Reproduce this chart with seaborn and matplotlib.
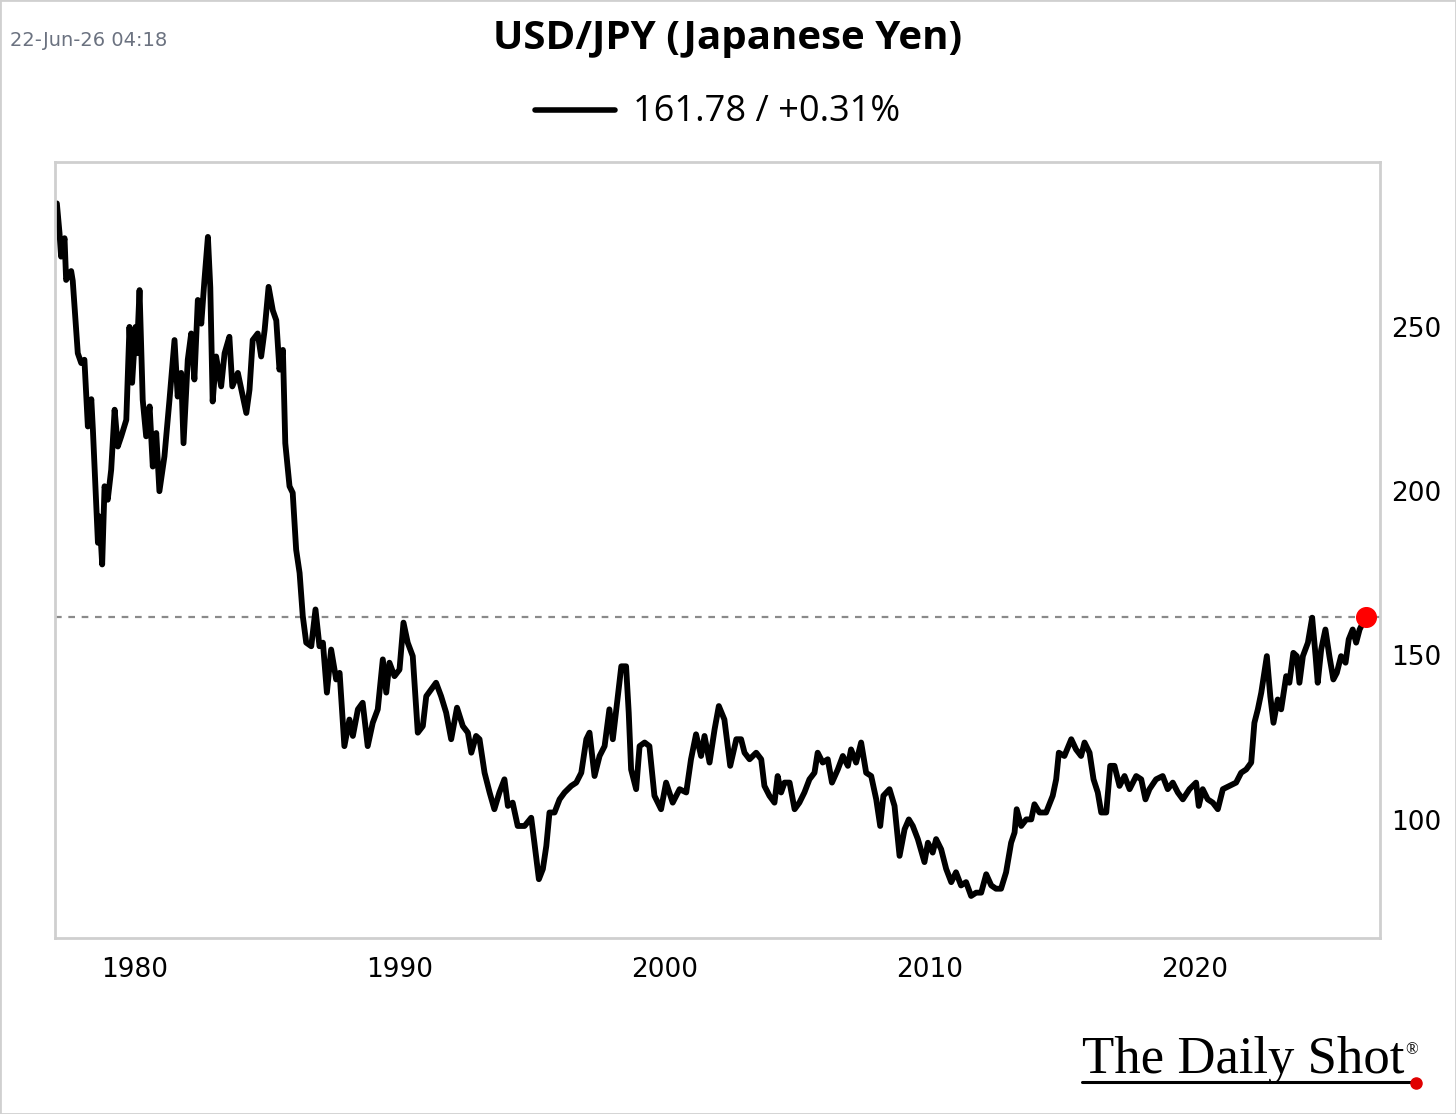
import matplotlib
matplotlib.use("Agg")
import matplotlib.pyplot as plt
from matplotlib.lines import Line2D
from matplotlib.patches import Rectangle
import numpy as np
import pandas as pd
import seaborn as sns

# USD/JPY, values (decimal year, yen per dollar)
years = [
    1977.07, 1977.17, 1977.23, 1977.36, 1977.42, 1977.61, 1977.67, 1977.86, 1977.99, 1978.11,
    1978.24, 1978.37, 1978.43, 1978.62, 1978.68, 1978.78, 1978.87, 1978.99, 1979.12, 1979.25,
    1979.37, 1979.50, 1979.69, 1979.81, 1979.91, 1980.04, 1980.09, 1980.19, 1980.31, 1980.44,
    1980.57, 1980.69, 1980.82, 1980.94, 1981.13, 1981.32, 1981.51, 1981.63, 1981.76, 1981.85,
    1982.01, 1982.14, 1982.26, 1982.39, 1982.52, 1982.64, 1982.77, 1982.86, 1982.95, 1983.08,
    1983.27, 1983.40, 1983.58, 1983.69, 1983.90, 1984.22, 1984.34, 1984.46, 1984.65, 1984.78,
    1984.91, 1985.06, 1985.22, 1985.35, 1985.47, 1985.60, 1985.69, 1985.85, 1985.97, 1986.10,
    1986.23, 1986.35, 1986.48, 1986.67, 1986.83, 1986.98, 1987.11, 1987.26, 1987.42, 1987.61,
    1987.74, 1987.92, 1988.11, 1988.24, 1988.43, 1988.61, 1988.80, 1988.99, 1989.18, 1989.37,
    1989.50, 1989.62, 1989.81, 1990.00, 1990.15, 1990.31, 1990.50, 1990.69, 1990.88, 1991.01,
    1991.20, 1991.38, 1991.57, 1991.76, 1991.95, 1992.17, 1992.39, 1992.58, 1992.71, 1992.89,
    1993.02, 1993.21, 1993.40, 1993.58, 1993.77, 1993.96, 1994.09, 1994.27, 1994.46, 1994.72,
    1994.97, 1995.09, 1995.26, 1995.41, 1995.54, 1995.66, 1995.85, 1996.04, 1996.23, 1996.48,
    1996.67, 1996.86, 1997.05, 1997.17, 1997.36, 1997.55, 1997.74, 1997.92, 1998.05, 1998.18,
    1998.37, 1998.55, 1998.65, 1998.74, 1998.93, 1999.06, 1999.25, 1999.43, 1999.62, 1999.87,
    2000.06, 2000.31, 2000.57, 2000.82, 2001.00, 2001.19, 2001.38, 2001.51, 2001.70, 2001.89,
    2002.05, 2002.26, 2002.48, 2002.71, 2002.89, 2003.02, 2003.21, 2003.46, 2003.65, 2003.77,
    2003.96, 2004.15, 2004.27, 2004.40, 2004.53, 2004.72, 2004.91, 2005.09, 2005.28, 2005.47,
    2005.66, 2005.78, 2005.97, 2006.16, 2006.32, 2006.54, 2006.73, 2006.92, 2007.04, 2007.23,
    2007.42, 2007.61, 2007.80, 2007.99, 2008.14, 2008.26, 2008.49, 2008.68, 2008.87, 2009.06,
    2009.22, 2009.37, 2009.56, 2009.81, 2009.94, 2010.12, 2010.25, 2010.44, 2010.63, 2010.82,
    2011.00, 2011.19, 2011.38, 2011.57, 2011.76, 2011.95, 2012.14, 2012.33, 2012.51, 2012.70,
    2012.89, 2013.08, 2013.21, 2013.29, 2013.46, 2013.65, 2013.84, 2013.96, 2014.15, 2014.40,
    2014.65, 2014.78, 2014.88, 2015.09, 2015.35, 2015.53, 2015.72, 2015.85, 2016.04, 2016.19,
    2016.35, 2016.48, 2016.67, 2016.82, 2016.98, 2017.17, 2017.36, 2017.55, 2017.80, 2017.99,
    2018.15, 2018.30, 2018.55, 2018.80, 2018.99, 2019.18, 2019.37, 2019.56, 2019.81, 2020.06,
    2020.16, 2020.31, 2020.50, 2020.69, 2020.88, 2021.07, 2021.32, 2021.57, 2021.76, 2021.95,
    2022.14, 2022.26, 2022.39, 2022.52, 2022.73, 2022.86, 2022.98, 2023.14, 2023.27, 2023.46,
    2023.58, 2023.73, 2023.86, 2023.96, 2024.09, 2024.28, 2024.44, 2024.57, 2024.65, 2024.78,
    2024.94, 2025.09, 2025.24, 2025.37, 2025.53, 2025.70, 2025.82, 2025.97, 2026.10, 2026.23,
    2026.47,
]
usdjpy = [
    287.6, 278.6, 271.4, 277.0, 264.3, 267.0, 264.0, 242.0, 239.0, 240.0,
    219.7, 228.0, 218.7, 184.3, 192.3, 177.7, 201.5, 197.4, 206.5, 224.8,
    213.6, 216.7, 221.7, 250.0, 233.0, 250.0, 242.0, 261.2, 227.8, 216.7,
    225.8, 207.5, 217.7, 200.0, 210.6, 227.8, 246.0, 228.8, 236.0, 214.6,
    240.0, 248.0, 234.0, 258.2, 251.0, 264.3, 277.4, 262.0, 227.3, 241.0,
    231.9, 242.0, 247.0, 231.9, 236.0, 223.8, 230.9, 246.0, 248.0, 241.0,
    249.0, 262.2, 255.0, 252.0, 237.0, 243.0, 214.6, 201.5, 199.5, 182.2,
    175.1, 162.0, 153.9, 152.8, 164.0, 152.8, 153.9, 138.7, 151.8, 142.7,
    144.7, 122.4, 130.5, 125.5, 133.6, 135.6, 122.4, 129.5, 133.6, 148.8,
    138.7, 147.8, 143.7, 145.7, 160.0, 153.9, 149.8, 126.5, 128.5, 137.6,
    139.7, 141.7, 137.6, 132.6, 124.5, 134.1, 128.5, 126.5, 120.4, 125.5,
    124.5, 114.3, 108.3, 103.2, 108.3, 112.3, 104.2, 105.2, 98.1, 98.1,
    100.6, 93.0, 81.9, 85.0, 92.0, 102.2, 102.2, 106.2, 108.3, 110.3,
    111.3, 114.3, 124.5, 126.5, 113.3, 119.4, 122.4, 133.6, 124.5, 133.6,
    146.7, 146.7, 132.6, 115.3, 109.3, 122.4, 123.5, 122.4, 107.3, 103.2,
    111.3, 105.2, 109.3, 108.3, 118.4, 126.0, 119.4, 125.5, 117.4, 127.5,
    134.6, 130.5, 116.4, 124.5, 124.5, 120.4, 118.4, 120.4, 118.4, 110.3,
    107.3, 105.2, 113.3, 108.3, 111.3, 111.3, 103.2, 105.2, 108.3, 112.3,
    114.3, 120.4, 117.4, 118.4, 111.3, 115.3, 119.4, 116.4, 121.4, 117.4,
    123.5, 114.3, 113.3, 106.2, 98.1, 107.3, 109.3, 104.2, 89.0, 97.1,
    100.1, 98.1, 94.1, 87.1, 93.0, 90.0, 94.1, 91.0, 85.0, 81.0,
    84.0, 80.0, 81.0, 76.8, 77.8, 77.8, 83.4, 80.0, 79.0, 79.0,
    84.0, 93.0, 96.1, 103.2, 98.1, 100.1, 100.1, 104.7, 102.2, 102.2,
    107.3, 112.3, 120.4, 119.4, 124.5, 121.4, 119.4, 123.5, 120.4, 112.3,
    108.3, 102.2, 102.2, 116.4, 116.4, 110.3, 113.3, 109.3, 113.3, 112.3,
    106.2, 109.3, 112.3, 113.3, 109.3, 111.3, 108.3, 106.2, 109.3, 111.3,
    104.2, 109.3, 106.2, 105.2, 103.2, 109.3, 110.3, 111.3, 114.3, 115.3,
    117.4, 129.5, 133.6, 138.7, 149.8, 137.6, 129.5, 136.6, 133.6, 143.7,
    141.7, 150.8, 149.8, 141.7, 149.8, 153.9, 161.5, 149.8, 141.7, 151.8,
    157.9, 149.8, 142.7, 144.7, 149.8, 147.8, 154.9, 157.9, 153.9, 157.9,
    161.78,
]
last_value = 161.78
legend_text = "161.78 / +0.31%"
title = "USD/JPY (Japanese Yen)"
stamp = "22-Jun-26 04:18"
x_ticks = [1980, 1990, 2000, 2010, 2020]
y_ticks = [100, 150, 200, 250]

df = pd.DataFrame({"year": years, "value": usdjpy})

sns.set_style("white")
plt.rcParams["font.family"] = ["DejaVu Sans"]
plt.rcParams["text.color"] = "black"

W, H = 1456, 1114
fig = plt.figure(figsize=(W / 100, H / 100), dpi=100)
ax = fig.add_axes([55 / W, 1 - 938 / H, (1380 - 55) / W, (938 - 162) / H])

sns.lineplot(data=df, x="year", y="value", ax=ax, color="black", linewidth=4.2)
ax.axhline(last_value, color="#8a8a8a", linestyle=(0, (3, 3)), linewidth=1.6, zorder=1)
ax.scatter([years[-1]], [last_value], s=200, color="#ff0000", zorder=5, clip_on=False)

ax.set_xlim(1977.0, 2027.0)
ax.set_ylim(64, 300.2)
ax.set_xticks(x_ticks)
ax.set_yticks(y_ticks)
ax.yaxis.tick_right()
ax.tick_params(axis="both", length=0, labelsize=19, colors="black")
ax.tick_params(axis="x", pad=14)
ax.tick_params(axis="y", pad=8)
ax.set_xlabel("")
ax.set_ylabel("")
for sp in ax.spines.values():
    sp.set_color("#cfcfcf")
    sp.set_linewidth(2)

# header
fig.text(10 / W, 1 - 40 / H, stamp, fontsize=14, color="#6b7280", va="center", ha="left")
fig.text(0.5, 1 - 38 / H, title, fontsize=29, fontweight="bold", va="center", ha="center",
         color="black", family=["Liberation Sans Narrow", "Open Sans", "DejaVu Sans"])
fig.add_artist(Line2D([535 / W, 615 / W], [1 - 110 / H, 1 - 110 / H], color="black",
                      linewidth=4, transform=fig.transFigure))
fig.text(633 / W, 1 - 112 / H, legend_text, fontsize=26, va="center", ha="left",
         color="black", family=["Open Sans", "DejaVu Sans"])

# logo
fig.text(1082 / W, 1 - 1073 / H, "The Daily Shot", fontsize=38, va="baseline", ha="left",
         color="black", family=["Liberation Serif", "DejaVu Serif"])
fig.text(1405 / W, 1 - 1050 / H, "®", fontsize=12, va="center", ha="left",
         color="black", family=["Liberation Serif", "DejaVu Serif"])
fig.add_artist(Line2D([1082 / W, 1412 / W], [1 - 1082 / H, 1 - 1082 / H], color="black",
                      linewidth=2.2, transform=fig.transFigure))
fig.add_artist(Line2D([1416 / W], [1 - 1083 / H], marker="o", markersize=8, color="#e00000",
                      transform=fig.transFigure))

# light frame around the whole picture
fig.add_artist(Rectangle((0, 0), 1, 1, transform=fig.transFigure, fill=False,
                         edgecolor="#d0d0d0", linewidth=2))

fig.savefig("out.png", dpi=100)
